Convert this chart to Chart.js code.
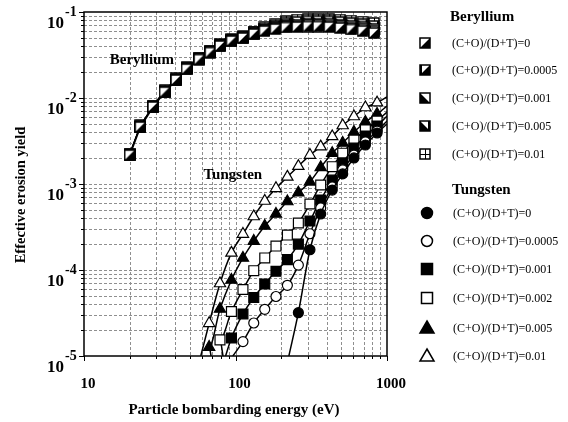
<!DOCTYPE html>
<html><head><meta charset="utf-8">
<script src="https://cdn.jsdelivr.net/npm/chart.js@4.4.0/dist/chart.umd.min.js"></script>
<style>html,body{margin:0;padding:0;background:#fff;}#wrap{width:568px;height:422px;position:relative;}</style>
</head><body><div id="wrap"><canvas id="c" width="568" height="422"></canvas></div>
<script>
// ---- data ----
const beLabels = ['(C+O)/(D+T)=0','(C+O)/(D+T)=0.0005','(C+O)/(D+T)=0.001','(C+O)/(D+T)=0.005','(C+O)/(D+T)=0.01'];
const beEnergy = [20,23.5,28.5,34,40.5,47.5,57.5,68,79,94,112,132,155,183,215,255,300,350,415,490,580,690,820];
const be0     = [2.17e-3,4.60e-3,7.86e-3,0.0117,0.0162,0.0217,0.0280,0.0338,0.0403,0.0460,0.0499,0.0555,0.0601,0.0634,0.0661,0.0669,0.0678,0.0678,0.0669,0.0652,0.0626,0.0601,0.0570];
const be00005 = [2.18e-3,4.62e-3,7.90e-3,0.0118,0.0163,0.0219,0.0282,0.0341,0.0406,0.0464,0.0505,0.0562,0.0612,0.0648,0.0680,0.0690,0.0700,0.0702,0.0695,0.0680,0.0656,0.0632,0.0602];
const be0001  = [2.19e-3,4.65e-3,7.95e-3,0.0119,0.0164,0.0221,0.0284,0.0344,0.0410,0.0468,0.0510,0.0570,0.0622,0.0662,0.0698,0.0712,0.0724,0.0727,0.0722,0.0708,0.0686,0.0662,0.0632];
const be0005  = [2.21e-3,4.72e-3,8.07e-3,0.0121,0.0166,0.0225,0.0288,0.0348,0.0415,0.0474,0.0518,0.0582,0.0642,0.0690,0.0742,0.0765,0.0778,0.0780,0.0776,0.0762,0.0740,0.0716,0.0686];
const be001   = [2.23e-3,4.79e-3,8.18e-3,0.0124,0.0169,0.0229,0.0292,0.0352,0.0419,0.0479,0.0526,0.0593,0.0661,0.0716,0.0786,0.0818,0.0829,0.0829,0.0829,0.0818,0.0796,0.0775,0.0745];

const wLabels = ['(C+O)/(D+T)=0','(C+O)/(D+T)=0.0005','(C+O)/(D+T)=0.001','(C+O)/(D+T)=0.002','(C+O)/(D+T)=0.005','(C+O)/(D+T)=0.01'];
const wEnergy = [67,79,94,112,132,156,185,220,260,310,365,435,510,605,720,860];
const w0     = [null,null,null,null,null,null,null,null,3.19e-5,1.72e-4,4.48e-4,8.51e-4,1.31e-3,2.01e-3,2.84e-3,3.92e-3];
const w00005 = [null,null,null,1.47e-5,2.42e-5,3.49e-5,4.92e-5,6.64e-5,1.14e-4,2.64e-4,5.26e-4,9.23e-4,1.46e-3,2.17e-3,3.08e-3,4.13e-3];
const w0001  = [null,null,1.62e-5,3.08e-5,4.79e-5,6.87e-5,9.66e-5,1.32e-4,2.00e-4,3.71e-4,6.52e-4,1.11e-3,1.75e-3,2.62e-3,3.62e-3,4.73e-3];
const w0002  = [null,1.54e-5,3.29e-5,5.93e-5,9.81e-5,1.38e-4,1.90e-4,2.55e-4,3.52e-4,5.85e-4,9.74e-4,1.59e-3,2.28e-3,3.25e-3,4.25e-3,5.40e-3];
const w0005  = [1.27e-5,3.52e-5,7.65e-5,1.38e-4,2.17e-4,3.25e-4,4.48e-4,6.26e-4,7.92e-4,1.06e-3,1.56e-3,2.28e-3,3.00e-3,4.02e-3,5.26e-3,6.52e-3];
const w001   = [2.40e-5,6.97e-5,1.58e-4,2.62e-4,4.19e-4,6.34e-4,8.91e-4,1.21e-3,1.61e-3,2.17e-3,2.72e-3,3.57e-3,4.79e-3,6.09e-3,7.75e-3,8.82e-3];
// fitted curves: energy where each curve meets 1e-5, and value at 1000 eV
const wCurveStart = [225,96,86,82.7,69,59];
const wCurveEnd   = [4.98e-3,5.40e-3,6.17e-3,6.87e-3,8.07e-3,1.03e-2];

const xDecades = [10,100,1000];
const xTickLabels = ['10','100','1000'];
const yDecades = [1e-5,1e-4,1e-3,1e-2,1e-1];
const yTickExp = ['-5','-4','-3','-2','-1'];
const xTitle = 'Particle bombarding energy (eV)';
const yTitle = 'Effective erosion yield';

// ---- markers ----
function makeBe(t){
  const c=document.createElement('canvas'); c.width=12; c.height=12;
  const g=c.getContext('2d');
  g.fillStyle='#fff'; g.fillRect(1,1,10,10);
  g.fillStyle='#000'; g.beginPath();
  if(t===0){ g.moveTo(1,11); g.lineTo(11,1); g.lineTo(11,11); g.closePath(); g.fill(); }
  else if(t===1){ g.moveTo(1,11); g.lineTo(11,1); g.lineTo(11,11); g.closePath(); g.fill(); g.fillRect(1,1,2,10); }
  else if(t===2){ g.moveTo(1,1); g.lineTo(11,11); g.lineTo(1,11); g.closePath(); g.fill(); }
  else if(t===3){ g.moveTo(1,1); g.lineTo(11,11); g.lineTo(1,11); g.closePath(); g.fill(); g.fillRect(9,1,2,10); }
  else { g.fillRect(6,1,1,10); g.fillRect(1,6,10,1); }
  g.strokeStyle='#000'; g.lineWidth=1.5; g.strokeRect(1,1,10,10);
  return c;
}
const beImgs=[0,1,2,3,4].map(makeBe);
const beSeries=[be0,be00005,be0001,be0005,be001];
const wSeries=[w0,w00005,w0001,w0002,w0005,w001];
const wStyles=[
  {s:'circle',fill:'#000',r:5},{s:'circle',fill:'#fff',r:5},
  {s:'rect',fill:'#000',r:7},{s:'rect',fill:'#fff',r:7},
  {s:'triangle',fill:'#000',r:6.5},{s:'triangle',fill:'#fff',r:6.5}];

const datasets=[];
beSeries.forEach((arr,i)=>{
  datasets.push({label:'Be '+beLabels[i],data:arr.map((v,k)=>({x:beEnergy[k],y:v})),
    borderColor:'#000',borderWidth:i===0?2:1,pointStyle:beImgs[i],pointRadius:6,tension:0,fill:false});
});
wSeries.forEach((arr,i)=>{
  const pts=[{x:wCurveStart[i],y:1e-5}];
  arr.forEach((v,k)=>{ if(v!==null) pts.push({x:wEnergy[k],y:v}); });
  pts.push({x:1000,y:wCurveEnd[i]});
  const n=pts.length, st=wStyles[i];
  datasets.push({label:'W '+wLabels[i],data:pts,borderColor:'#000',borderWidth:1.5,
    cubicInterpolationMode:'monotone',pointStyle:st.s,backgroundColor:st.fill,pointBorderColor:'#000',pointBorderWidth:1.2,
    pointRadius:ctx=>(ctx.dataIndex===0||ctx.dataIndex===n-1)?0:st.r,fill:false});
});

function gridVals(decades){
  const out=[];
  for(let d=0; d<decades.length-1; d++){ for(let m=1;m<10;m++) out.push(decades[d]*m); }
  out.push(decades[decades.length-1]);
  return out;
}
const xGrid=gridVals(xDecades), yGrid=gridVals(yDecades);

const SERIF='"Liberation Serif","Times New Roman",serif';
const gridPlugin={
  id:'gridp',
  beforeDatasetsDraw(chart){
    const {ctx,chartArea:a,scales:{x,y}}=chart;
    ctx.save();
    ctx.lineWidth=1; ctx.strokeStyle='#8f8f8f'; ctx.setLineDash([3,2]);
    xGrid.forEach(v=>{ const px=Math.round(x.getPixelForValue(v))+0.5; if(px<=a.left+1||px>=a.right-1) return;
      ctx.beginPath(); ctx.moveTo(px,a.top); ctx.lineTo(px,a.bottom); ctx.stroke(); });
    yGrid.forEach(v=>{ const py=Math.round(y.getPixelForValue(v))+0.5; if(py<=a.top+1||py>=a.bottom-1) return;
      ctx.beginPath(); ctx.moveTo(a.left,py); ctx.lineTo(a.right,py); ctx.stroke(); });
    ctx.restore();
  }
};
const decor={
  id:'decor',
  afterDraw(chart){
    const {ctx,chartArea:a,scales:{x,y}}=chart;
    ctx.save();
    ctx.strokeStyle='#000'; ctx.lineWidth=1.5;
    ctx.strokeRect(a.left,a.top,a.right-a.left,a.bottom-a.top);
    // minor ticks outside
    ctx.lineWidth=1;
    xGrid.forEach(v=>{ const px=Math.round(x.getPixelForValue(v))+0.5; const L=xDecades.includes(v)?5:3;
      ctx.beginPath(); ctx.moveTo(px,a.bottom); ctx.lineTo(px,a.bottom+L); ctx.stroke(); });
    yGrid.forEach(v=>{ const py=Math.round(y.getPixelForValue(v))+0.5; const L=yDecades.includes(v)?5:3;
      ctx.beginPath(); ctx.moveTo(a.left-L,py); ctx.lineTo(a.left,py); ctx.stroke(); });
    // y tick labels
    ctx.fillStyle='#000';
    yDecades.forEach((v,i)=>{
      const py=y.getPixelForValue(v);
      ctx.textBaseline='middle';
      ctx.font='bold 17px '+SERIF; ctx.textAlign='right'; ctx.fillText('10',64,py+12);
      ctx.font='bold 14px '+SERIF; ctx.textAlign='left'; ctx.fillText(yTickExp[i],65,py);
    });
    xDecades.forEach((v,i)=>{
      const px=x.getPixelForValue(v);
      ctx.font='bold 15px '+SERIF; ctx.textAlign='center'; ctx.textBaseline='middle';
      ctx.fillText(xTickLabels[i],px+4,a.bottom+28);
    });
    // axis titles
    ctx.textAlign='center'; ctx.textBaseline='middle';
    ctx.font='bold 15px '+SERIF;
    ctx.fillText(xTitle,234,410);
    ctx.font='bold 14.5px '+SERIF;
    ctx.save(); ctx.translate(21,195); ctx.rotate(-Math.PI/2); ctx.fillText(yTitle,0,0); ctx.restore();
    // in-plot labels
    ctx.font='bold 15px '+SERIF;
    ctx.fillText('Beryllium',x.getPixelForValue(24.1),y.getPixelForValue(0.0277));
    ctx.fillText('Tungsten',x.getPixelForValue(96),y.getPixelForValue(1.27e-3));
    // legend
    ctx.textAlign='left';
    ctx.font='bold 15px '+SERIF; ctx.fillText('Beryllium',450,17); ctx.fillText('Tungsten',452,190);
    ctx.font='12px '+SERIF;
    const beRows=[43,70,98,126,154];
    beRows.forEach((ry,i)=>{ ctx.drawImage(beImgs[i],425-6,ry-6); ctx.fillText(beLabels[i],452,ry+1); });
    const wRows=[213,241,269,298,328,356];
    wRows.forEach((ry,i)=>{
      const st=wStyles[i]; const cx=427;
      ctx.beginPath();
      if(st.s==='circle'){ ctx.arc(cx,ry,5.5,0,Math.PI*2); }
      else if(st.s==='rect'){ ctx.rect(cx-5.5,ry-5.5,11,11); }
      else { ctx.moveTo(cx,ry-7); ctx.lineTo(cx+7,ry+5); ctx.lineTo(cx-7,ry+5); ctx.closePath(); }
      ctx.fillStyle=st.fill; ctx.fill(); ctx.lineWidth=1.5; ctx.strokeStyle='#000'; ctx.stroke();
      ctx.fillStyle='#000'; ctx.fillText(wLabels[i],453,ry+1);
    });
    ctx.restore();
  }
};

new Chart(document.getElementById('c'),{
  type:'line',
  data:{datasets},
  options:{
    responsive:false,animation:false,
    layout:{padding:{left:0,top:12,right:181,bottom:0}},
    plugins:{legend:{display:false},tooltip:{enabled:false}},
    scales:{
      x:{type:'logarithmic',min:10,max:1000,
        afterFit:s=>{s.height=66;},
        ticks:{display:false},
        grid:{display:false},
        border:{display:false}},
      y:{type:'logarithmic',min:1e-5,max:1e-1,
        afterFit:s=>{s.width=84;},
        ticks:{display:false},
        grid:{display:false},
        border:{display:false}}
    }
  },
  plugins:[gridPlugin,decor]
});
</script></body></html>
